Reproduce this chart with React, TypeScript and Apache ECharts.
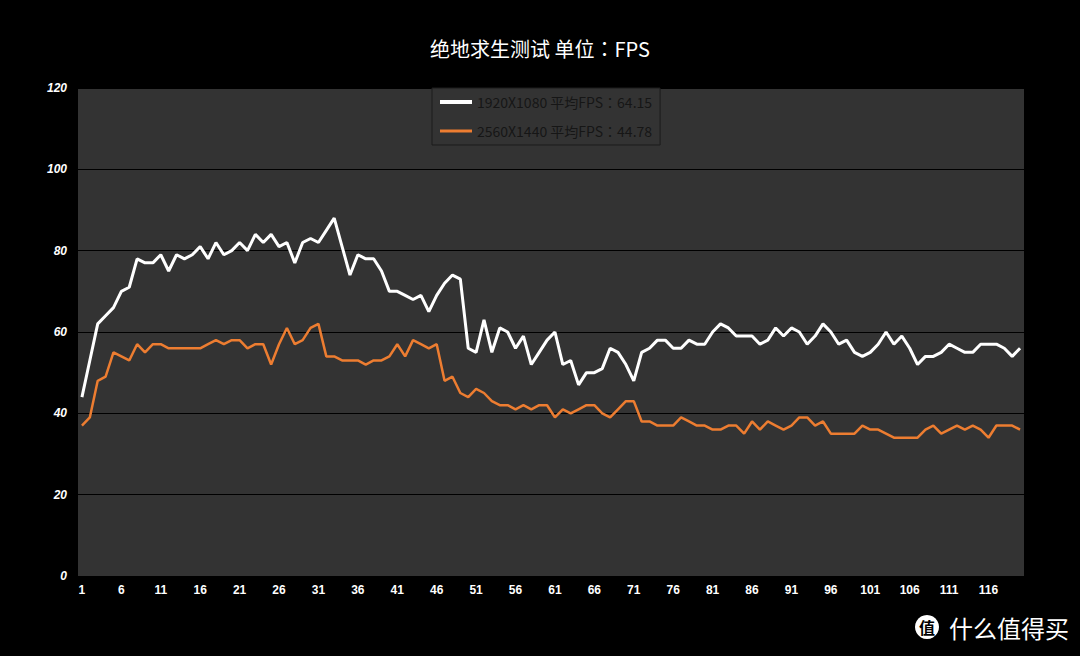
import React, { useEffect, useRef } from "react";
import * as echarts from "echarts";

const titleText = "绝地求生测试 单位：FPS";
const seriesNames = ["1920X1080 平均FPS：64.15", "2560X1440 平均FPS：44.78"];
const categories = Array.from({ length: 120 }, (_, i) => String(i + 1));

const fps1080 = [
  44, 53, 62, 64, 66, 70, 71, 78, 77, 77, 79, 75, 79, 78, 79, 81, 78, 82, 79, 80,
  82, 80, 84, 82, 84, 81, 82, 77, 82, 83, 82, 85, 88, 81, 74, 79, 78, 78, 75, 70,
  70, 69, 68, 69, 65, 69, 72, 74, 73, 56, 55, 63, 55, 61, 60, 56, 59, 52, 55, 58,
  60, 52, 53, 47, 50, 50, 51, 56, 55, 52, 48, 55, 56, 58, 58, 56, 56, 58, 57, 57,
  60, 62, 61, 59, 59, 59, 57, 58, 61, 59, 61, 60, 57, 59, 62, 60, 57, 58, 55, 54,
  55, 57, 60, 57, 59, 56, 52, 54, 54, 55, 57, 56, 55, 55, 57, 57, 57, 56, 54, 56,
];

const fps1440 = [
  37, 39, 48, 49, 55, 54, 53, 57, 55, 57, 57, 56, 56, 56, 56, 56, 57, 58, 57, 58,
  58, 56, 57, 57, 52, 57, 61, 57, 58, 61, 62, 54, 54, 53, 53, 53, 52, 53, 53, 54,
  57, 54, 58, 57, 56, 57, 48, 49, 45, 44, 46, 45, 43, 42, 42, 41, 42, 41, 42, 42,
  39, 41, 40, 41, 42, 42, 40, 39, 41, 43, 43, 38, 38, 37, 37, 37, 39, 38, 37, 37,
  36, 36, 37, 37, 35, 38, 36, 38, 37, 36, 37, 39, 39, 37, 38, 35, 35, 35, 35, 37,
  36, 36, 35, 34, 34, 34, 34, 36, 37, 35, 36, 37, 36, 37, 36, 34, 37, 37, 37, 36,
];

export default function App() {
  const ref = useRef<HTMLDivElement>(null);
  useEffect(() => {
    if (!ref.current) return;
    const chart = echarts.init(ref.current, null, { renderer: "svg" });
    chart.setOption({
      animation: false,
      backgroundColor: "#000000",
      title: {
        text: titleText,
        left: "center",
        top: 33,
        textStyle: {
          color: "#ffffff",
          fontSize: 20,
          fontWeight: "normal",
          fontFamily: "Noto Sans CJK TC",
        },
      },
      legend: {
        orient: "vertical",
        left: 432,
        top: 88,
        padding: [7, 8, 7, 8],
        itemGap: 15,
        itemWidth: 32,
        itemHeight: 14,
        itemTextGap: 1,
        backgroundColor: "#333333",
        borderColor: "#1c1c1c",
        borderWidth: 1,
        textStyle: {
          color: "#161616",
          fontSize: 14,
          fontFamily: "Noto Sans CJK TC",
        },
        data: [
          { name: seriesNames[0], icon: "path://M0 0H32V4H0Z" },
          { name: seriesNames[1], icon: "path://M0 0H32V3H0Z" },
        ],
      },
      grid: {
        left: 78,
        right: 56,
        top: 88,
        bottom: 80,
        show: true,
        backgroundColor: "#333333",
        borderWidth: 0,
      },
      xAxis: {
        type: "category",
        data: categories,
        boundaryGap: true,
        axisLine: { show: false },
        axisTick: { show: false },
        axisLabel: {
          interval: 4,
          color: "#ffffff",
          fontWeight: "bold",
          fontSize: 12,
          fontFamily: "Liberation Sans",
          margin: 8,
        },
        splitLine: { show: false },
      },
      yAxis: {
        type: "value",
        min: 0,
        max: 120,
        interval: 20,
        axisLine: { show: false },
        axisTick: { show: false },
        axisLabel: {
          color: "#ffffff",
          fontWeight: "bold",
          fontStyle: "italic",
          fontSize: 12,
          fontFamily: "Liberation Sans",
          margin: 11,
        },
        splitLine: { show: true, lineStyle: { color: "#000000", width: 1 } },
      },
      series: [
        {
          name: seriesNames[0],
          type: "line",
          data: fps1080,
          symbol: "none",
          lineStyle: { color: "#ffffff", width: 3 },
          itemStyle: { color: "#ffffff" },
        },
        {
          name: seriesNames[1],
          type: "line",
          data: fps1440,
          symbol: "none",
          lineStyle: { color: "#ed7d31", width: 2.5 },
          itemStyle: { color: "#ed7d31" },
        },
      ],
      graphic: [
        {
          type: "circle",
          shape: { cx: 927, cy: 627, r: 12 },
          style: { fill: "#ffffff" },
        },
        {
          type: "text",
          x: 927,
          y: 627,
          style: {
            text: "值",
            fill: "#000000",
            fontSize: 16,
            fontWeight: "bold",
            fontFamily: "Noto Sans CJK SC",
            align: "center",
            verticalAlign: "middle",
          },
        },
        {
          type: "text",
          x: 949,
          y: 627,
          style: {
            text: "什么值得买",
            fill: "#ffffff",
            fontSize: 24,
            fontFamily: "Noto Sans CJK SC",
            align: "left",
            verticalAlign: "middle",
          },
        },
      ],
    });
    return () => chart.dispose();
  }, []);
  return (
    <div
      ref={ref}
      style={{ position: "fixed", left: 0, top: 0, width: 1080, height: 656, background: "#000" }}
    />
  );
}
